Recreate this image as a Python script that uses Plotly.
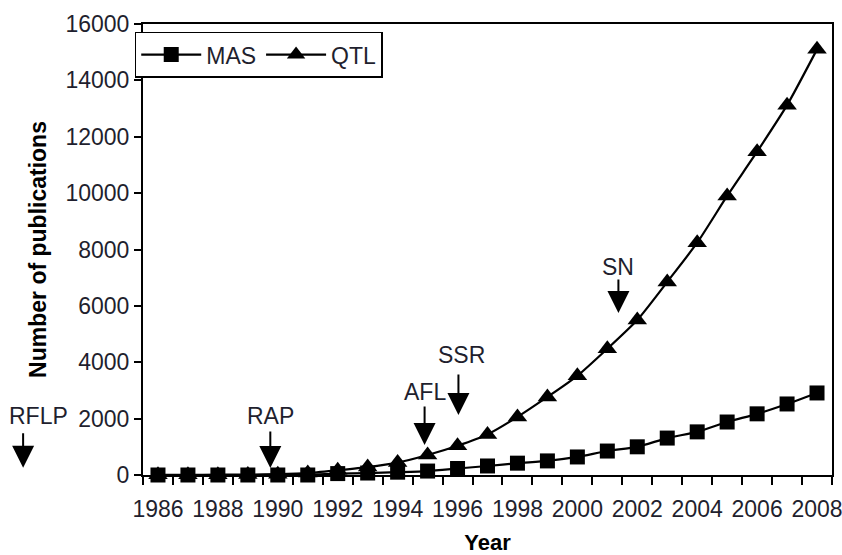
import plotly.graph_objects as go

years = list(range(1986, 2009))
mas = [0, 0, 0, 0, 0, 0, 50, 70, 100, 140, 230, 320, 420, 500, 640, 850,
       1000, 1310, 1530, 1880, 2170, 2520, 2910]
qtl = [5, 5, 10, 15, 30, 70, 170, 280, 440, 710, 1040, 1440, 2060, 2770,
       3520, 4480, 5500, 6850, 8240, 9900, 11470, 13120, 15100]
year_labels = [str(y) for y in range(1986, 2009, 2)]
y_ticks = list(range(0, 16001, 2000))

# marker technology arrows: (label, year position, arrow tip value)
events = [("RAP", 1989.75, 250), ("AFL", 1994.9, 1060),
          ("SSR", 1996.03, 2130), ("SN", 2001.37, 5750)]
# arrow length and label offset above the tip, in pixels
event_offsets = {"RAP": (38, 52, 0), "AFL": (40, 53, 0),
                 "SSR": (42, 60, 3), "SN": (35, 46, 0)}

font_family = "Liberation Sans, Arial, sans-serif"
text_color = "#1f1f2e"
label_size = 23

fig = go.Figure()
fig.add_trace(go.Scatter(
    x=years, y=qtl, name="QTL", mode="lines+markers", cliponaxis=False,
    line=dict(color="black", width=2.2, shape="spline", smoothing=0.6),
    marker=dict(symbol="triangle-up", size=17, color="black"),
    legendrank=2,
))
fig.add_trace(go.Scatter(
    x=years, y=mas, name="MAS", mode="lines+markers", cliponaxis=False,
    line=dict(color="black", width=2.2, shape="spline", smoothing=0.6),
    marker=dict(symbol="square", size=15, color="black"),
    legendrank=1,
))

arrow_style = dict(showarrow=True, ax=0, arrowhead=2, arrowsize=2.2,
                   arrowwidth=2, arrowcolor="black", text="")
label_font = dict(size=label_size, color=text_color, family=font_family)

for label, xpos, ytip in events:
    length, lift, nudge = event_offsets[label]
    fig.add_annotation(x=xpos, y=ytip, xref="x", yref="y", ay=-length,
                       **arrow_style)
    fig.add_annotation(x=xpos, y=ytip, xref="x", yref="y", text=label,
                       showarrow=False, yshift=lift, xshift=nudge,
                       xanchor="center", yanchor="middle", font=label_font)

# RFLP sits left of the plotting area
fig.add_annotation(x=-0.174, y=0.016, xref="paper", yref="paper", ay=-36,
                   **arrow_style)
fig.add_annotation(x=-0.152, y=0.131, xref="paper", yref="paper", text="RFLP",
                   showarrow=False, xanchor="center", yanchor="middle",
                   font=label_font)

fig.update_layout(
    width=842, height=555,
    margin=dict(l=143, r=10, t=24, b=80, autoexpand=False),
    paper_bgcolor="white", plot_bgcolor="white",
    font=dict(family=font_family, size=label_size, color=text_color),
    showlegend=True,
    legend=dict(orientation="h", x=-0.012, y=0.983, xanchor="left",
                yanchor="top", bordercolor="black", borderwidth=1.5,
                bgcolor="white", font=dict(size=label_size, color=text_color),
                itemwidth=60, traceorder="normal"),
    xaxis=dict(
        range=[1985.5, 2008.5], tickvals=list(range(1986, 2009, 2)),
        ticktext=year_labels, ticks="", ticklabelstandoff=12,
        ticklabeloverflow="allow",
        minor=dict(tick0=1985.5, dtick=1, ticks="outside", ticklen=8,
                   tickwidth=1.5, tickcolor="black"),
        showline=True, linecolor="black", linewidth=2, mirror=True,
        showgrid=False, zeroline=False, automargin=False,
        title=dict(text="<b>Year</b>", standoff=15,
                   font=dict(size=22, color="black")),
        tickfont=dict(size=label_size, color=text_color),
    ),
    yaxis=dict(
        range=[0, 16000], tickvals=y_ticks, tickformat="d",
        ticks="outside", ticklen=7, tickwidth=1.5, tickcolor="black",
        showline=True, linecolor="black", linewidth=2, mirror=True,
        showgrid=False, zeroline=False, automargin=False,
        ticklabeloverflow="allow",
        title=dict(text="<b>Number of publications</b>", standoff=12,
                   font=dict(size=23, color="black")),
        tickfont=dict(size=label_size, color=text_color),
    ),
)

fig.write_html("out.html")
